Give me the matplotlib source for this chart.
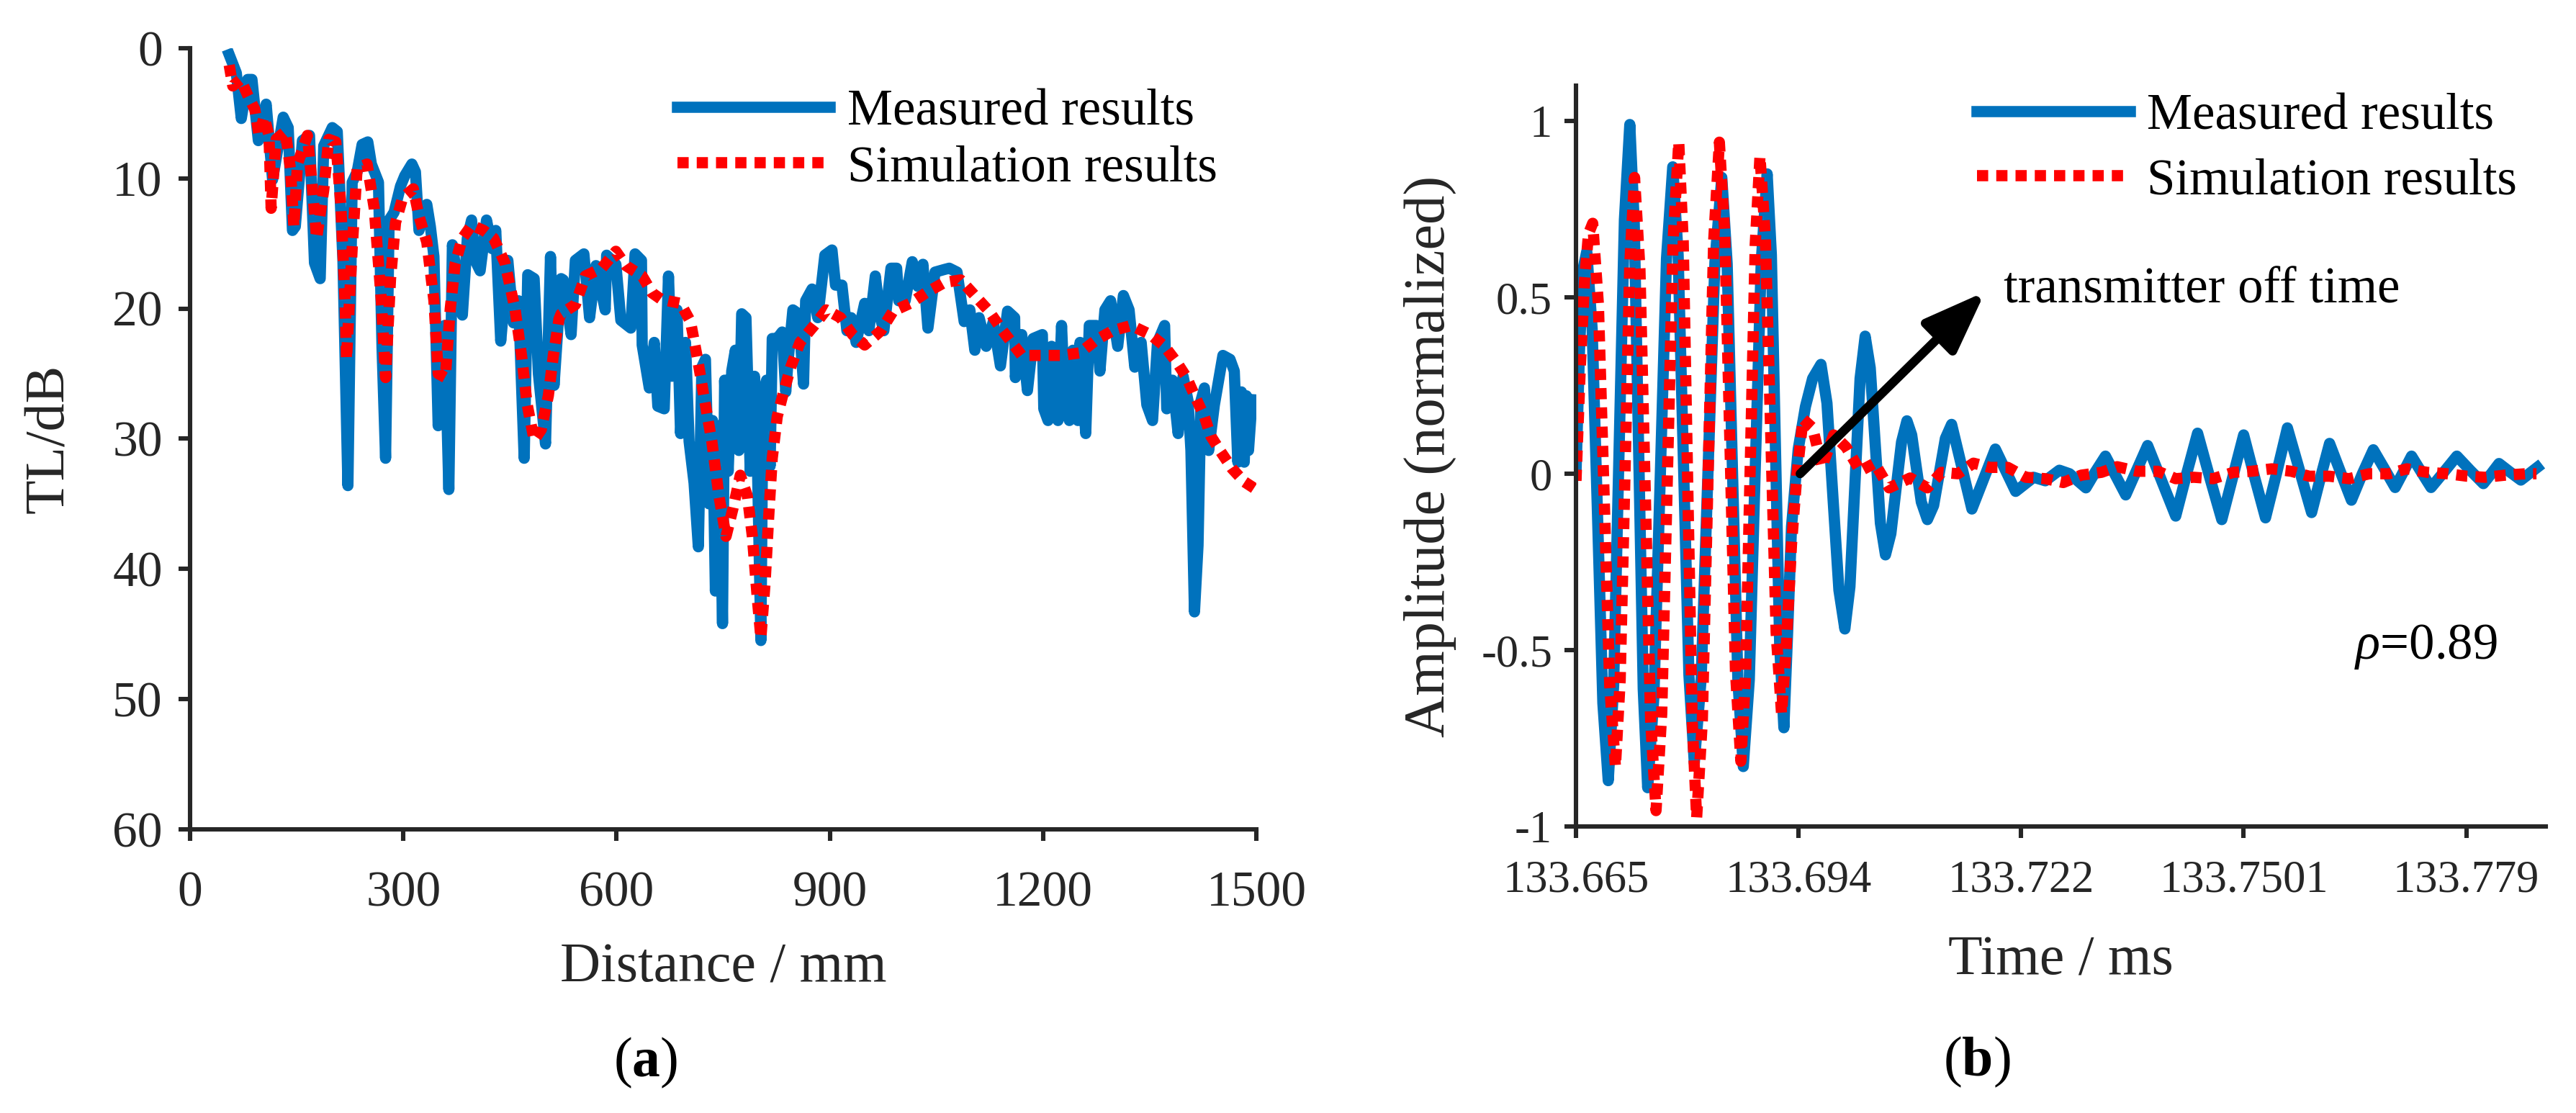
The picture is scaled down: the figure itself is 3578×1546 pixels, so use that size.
import matplotlib
matplotlib.use('Agg')
from matplotlib import pyplot as plt

plt.rcParams['font.family'] = ['Liberation Serif', 'DejaVu Serif']
plt.rcParams['mathtext.fontset'] = 'custom'
plt.rcParams['mathtext.rm'] = 'Liberation Serif'
plt.rcParams['mathtext.it'] = 'Liberation Serif:italic'
plt.rcParams['mathtext.bf'] = 'Liberation Serif:bold'

# (a) transmission loss vs distance
dist_meas = [55, 65, 72, 81, 87, 96, 107, 116, 131, 138, 144, 148, 158, 168, 175, 183,
             188, 200, 207, 215, 222, 228, 235, 242, 250, 255, 265, 270, 275, 280, 287,
             296, 302, 312, 317, 322, 333, 338, 343, 349, 358, 364, 369, 383, 390, 396,
             401, 408, 417, 425, 430, 437, 447, 455, 462, 470, 475, 484, 490, 500, 507,
             512, 522, 525, 536, 542, 554, 562, 571, 584, 586, 599, 606, 620, 626, 635,
             636, 646, 653, 658, 667, 673, 678, 685, 690, 697, 702, 709, 715, 720, 725,
             730, 735, 739, 744, 749, 752, 757, 762, 767, 772, 776, 782, 788, 794, 798,
             803, 806, 811, 816, 819, 826, 833, 838, 841, 848, 856, 863, 866, 875, 883,
             893, 903, 908, 917, 924, 930, 937, 949, 955, 964, 971, 976, 986, 994, 997,
             1006, 1016, 1024, 1031, 1038, 1048, 1061, 1068, 1079, 1089, 1097, 1104, 1110,
             1120, 1130, 1140, 1150, 1160, 1161, 1170, 1178, 1186, 1199, 1201, 1207, 1212,
             1221, 1226, 1231, 1237, 1242, 1249, 1252, 1260, 1265, 1275, 1280, 1287, 1295,
             1305, 1313, 1321, 1329, 1338, 1346, 1354, 1361, 1371, 1374, 1382, 1390, 1397,
             1404, 1408, 1413, 1418, 1422, 1427, 1433, 1441, 1453, 1463, 1469, 1474, 1479,
             1483, 1486, 1489, 1494]
tl_meas = [0.5, 1.9, 5.4, 2.4, 2.4, 7.1, 4.3, 10.1, 5.3, 6.1, 14.0, 13.7, 7.1, 6.7, 16.5, 17.7,
           7.5, 6.1, 6.4, 16.3, 33.6, 10.3, 9.5, 7.4, 7.2, 8.9, 10.3, 23.0, 31.5, 13.2, 12.6,
           10.6, 9.8, 8.9, 9.5, 14.0, 12.0, 13.7, 16.0, 29.0, 21.3, 33.9, 15.1, 20.5, 14.6, 13.2,
           16.3, 17.1, 13.2, 15.4, 14.0, 22.5, 16.3, 21.1, 19.4, 31.5, 17.4, 17.7, 25.0, 30.4, 16.0,
           25.9, 17.7, 17.8, 22.0, 16.3, 15.8, 20.7, 16.7, 20.1, 15.9, 16.6, 20.9, 21.5, 15.8, 16.3,
           22.8, 26.1, 22.6, 27.5, 27.7, 17.5, 25.2, 20.1, 29.6, 22.6, 30.2, 33.4, 38.3, 24.5, 23.9,
           35.0, 28.6, 41.7, 29.0, 44.2, 25.5, 32.5, 24.8, 23.2, 30.9, 20.4, 20.7, 32.5, 25.2, 31.5,
           45.5, 26.4, 25.5, 32.1, 22.3, 22.3, 21.8, 26.4, 24.2, 20.1, 20.4, 25.8, 19.4, 18.5, 20.7,
           15.9, 15.5, 18.2, 18.2, 21.7, 20.7, 22.6, 19.6, 21.7, 17.5, 20.7, 21.7, 16.9, 16.9, 19.4,
           19.4, 16.4, 18.3, 16.6, 21.5, 17.2, 17.0, 16.9, 17.2, 21.0, 20.1, 23.2, 20.7,
           22.9, 21.0, 24.4, 20.2, 20.7, 25.3, 22.0, 26.3, 22.3, 22.0, 27.7, 28.6, 22.9,
           28.6, 21.3, 27.7, 28.6, 23.2, 28.6, 22.6, 29.6, 21.3, 21.3, 24.8, 20.1, 19.4,
           22.9, 19.0, 20.1, 24.5, 22.6, 27.4, 28.6, 22.6, 21.3, 27.7, 25.5, 29.6, 25.2,
           27.1, 30.9, 43.3, 38.2, 27.1, 26.1, 30.9, 27.4, 23.6, 23.9, 24.8, 31.8, 26.4,
           31.8, 26.7, 30.9, 27.0]

dist_sim = [55, 60, 71, 81, 91, 97, 104, 111, 114, 121, 134, 141, 146, 151, 165, 171, 178,
            188, 195, 205, 212, 218, 220, 228, 235, 249, 259, 269, 275, 282, 289, 299, 314,
            322, 333, 343, 349, 359, 366, 373, 383, 396, 413, 427, 443, 457, 467, 474, 484,
            494, 504, 511, 519, 522, 542, 556, 579, 599, 613, 636, 650, 663, 690, 704, 714,
            724, 734, 744, 754, 764, 774, 784, 791, 798, 803, 809, 814, 819, 826, 835, 845,
            858, 878, 895, 915, 932, 949, 972, 989, 1013, 1035, 1061, 1084, 1104, 1124, 1143,
            1170, 1196, 1226, 1252, 1275, 1298, 1324, 1351, 1371, 1389, 1402, 1415, 1427,
            1436, 1450, 1466, 1483, 1497]
tl_sim = [1.3, 2.9, 2.4, 3.6, 4.7, 6.7, 5.3, 6.7, 12.3, 7.0, 6.4, 9.2, 13.7, 8.9, 6.7, 10.1, 14.6,
          10.9, 7.0, 7.2, 12.0, 19.4, 23.9, 15.4, 9.2, 8.9, 12.3, 19.4, 25.3, 17.7, 13.4, 11.5, 10.8,
          12.9, 14.9, 19.4, 25.0, 25.3, 20.0, 16.5, 14.6, 13.6, 14.0, 14.6, 16.5, 20.0, 23.9, 27.3, 30.1,
          29.3, 26.7, 23.6, 20.8, 20.4, 19.7, 17.5, 16.9, 15.6, 16.7, 17.5, 18.8, 19.3, 19.6, 21.0, 23.9,
          27.1, 30.2, 34.4, 37.5, 35.3, 32.8, 34.4, 37.5, 42.3, 45.3, 41.0, 36.0, 31.5, 28.3, 26.4, 24.5,
          22.6, 21.3, 20.1, 20.7, 22.0, 22.8, 21.7, 20.2, 19.6, 18.8, 18.0, 17.8, 19.0, 20.2, 21.7,
          23.6, 23.6, 23.6, 23.4, 22.4, 21.7, 21.3, 22.0, 22.9, 24.2, 25.3, 26.9, 28.3,
          29.8, 31.0, 32.3, 33.3, 33.8]

dist_ticks = [0, 300, 600, 900, 1200, 1500]
tl_ticks = [0, 10, 20, 30, 40, 50, 60]

# (b) time signal, time as microseconds after 133.665 ms
t0_ms = 133.665
t_meas_us = [0.0, 0.45, 0.9, 1.38, 2.07, 2.76, 3.44, 4.13, 4.82, 5.51, 6.2, 6.89, 7.46, 8.04,
             8.61, 9.18, 9.98, 10.79, 11.59, 12.39, 13.08, 13.77, 14.46, 15.15, 16.03, 16.91,
             17.79, 18.67, 19.36, 20.05, 20.73, 21.42, 22.19, 22.95, 23.72, 24.48, 25.02, 25.55,
             26.09, 26.62, 27.1, 27.6, 28.46, 29.38, 30.3, 31.37, 32.14, 32.9, 33.67, 34.43,
             35.08, 35.73, 36.38, 37.03, 37.68, 38.33, 38.98, 39.63, 40.32, 41.0, 41.69, 42.38,
             42.99, 43.6, 44.22, 45.0, 45.8, 46.55, 47.3, 48.1, 49.4, 50.7, 52.2, 53.7, 55.0,
             56.3, 58.6, 60.1, 61.9, 63.2, 65.3, 66.5, 67.8, 69.1, 70.4, 71.8, 73.2, 75.0, 76.8,
             78.2, 79.6, 81.15, 82.7, 84.1, 85.5, 86.9, 88.3, 89.7, 91.1, 92.65, 94.2, 95.35,
             96.5, 97.9, 99.3, 100.7, 102.1, 103.5, 104.9, 105.95, 107.0, 108.25, 109.5, 111.15,
             112.8, 114.5, 116.2, 117.2, 118.2, 119.6, 121.0, 123.1]
amp_meas = [0.0, 0.35, 0.58, 0.63, 0.41, -0.12, -0.65, -0.87, -0.6, 0.06, 0.72, 0.99, 0.71, 0.05,
            -0.61, -0.89, -0.63, -0.01, 0.61, 0.87, 0.62, 0.025, -0.57, -0.82, -0.58, 0.01,
            0.6, 0.84, 0.595, 0.0, -0.585, -0.83, -0.585, 0.01, 0.6, 0.85, 0.62, 0.065,
            -0.49, -0.72, -0.45, -0.15, 0.07, 0.19, 0.27, 0.31, 0.2, -0.065, -0.33, -0.44,
            -0.32, -0.025, 0.27, 0.39, 0.3, 0.08, -0.14, -0.23, -0.17, -0.04, 0.09, 0.15,
            0.11, 0.015, -0.08, -0.13, -0.09, 0.005, 0.1, 0.14, 0.02, -0.1, -0.015, 0.07, 0.01,
            -0.05, -0.01, -0.02, 0.01, 0.0, -0.04, 0.005, 0.05, -0.005, -0.06, 0.01, 0.08, -0.02, -0.12,
            0.0, 0.115, -0.01, -0.13, -0.01, 0.11, -0.01, -0.125, 0.0, 0.13, 0.01, -0.11, -0.01,
            0.086, 0.005, -0.075, 0.0, 0.068, 0.015, -0.039, 0.005, 0.05, 0.005, -0.039, 0.005,
            0.05, 0.01, -0.028, 0.0, 0.029, 0.005, -0.018, 0.018]

t_sim_us = [0.0, 0.55, 1.1, 1.6, 2.14, 2.87, 3.6, 4.32, 5.05, 5.66, 6.28, 6.89, 7.5, 8.19, 8.88,
            9.56, 10.25, 10.98, 11.7, 12.43, 13.16, 13.73, 14.3, 14.88, 15.45, 16.18, 16.9, 17.63,
            18.36, 19.05, 19.74, 20.42, 21.11, 21.72, 22.33, 22.95, 23.56, 24.25, 24.94, 25.63,
            26.32, 26.9, 27.6, 28.3, 29.07, 30.3, 31.5, 33.0, 34.6, 36.4, 38.25, 40.1, 42.8,
            45.0, 46.8, 48.9, 50.9, 53.0, 55.3, 57.6, 60.1, 62.4, 64.7, 67.3, 69.3, 71.9, 74.5,
            76.8, 79.1, 81.6, 84.2, 86.5, 89.1, 91.6, 93.9, 96.5, 99.0, 101.6, 104.1, 106.4,
            109.0, 111.6, 114.1, 116.4, 119.0, 121.6, 123.0]
amp_sim = [-0.02, 0.3, 0.55, 0.68, 0.71, 0.48, -0.06, -0.6, -0.83, -0.585, 0.005, 0.595, 0.84,
           0.58, -0.06, -0.7, -0.955, -0.68, -0.01, 0.66, 0.94, 0.66, -0.02, -0.7, -0.975, -0.7,
           -0.02, 0.66, 0.94, 0.68, 0.06, -0.56, -0.815, -0.57, 0.04, 0.65, 0.9, 0.67, 0.11,
           -0.45, -0.68, -0.5, -0.2, 0.0, 0.155, 0.13, 0.02, 0.11, 0.075, 0.008, 0.03, -0.04,
           -0.012, -0.04, 0.004, 0.0, 0.03, 0.018, 0.018, -0.01, -0.014, -0.025, -0.004, 0.004,
           0.02, 0.007, 0.007, -0.014, -0.01, -0.014, 0.004, 0.007, 0.014, 0.007, -0.007, -0.007,
           -0.014, 0.0, 0.0, 0.014, 0.004, 0.0, -0.007, -0.01, -0.004, 0.0, 0.0]

time_ticks_ms = [133.665, 133.6935, 133.722, 133.7505, 133.779]
time_tick_labels = ['133.665', '133.694', '133.722', '133.7501', '133.779']
amp_ticks = [-1, -0.5, 0, 0.5, 1]
amp_tick_labels = ['-1', '-0.5', '0', '0.5', '1']

blue = '#0072BD'
red = '#FF0000'
ink = '#262626'

t_meas = [t0_ms + v / 1000 for v in t_meas_us]
t_sim = [t0_ms + v / 1000 for v in t_sim_us]

fig = plt.figure(figsize=(17.89, 7.73), dpi=200)
ax1 = fig.add_axes([0.0738, 0.2549, 0.4139, 0.7018])
ax2 = fig.add_axes([0.6118, 0.2574, 0.3765, 0.6656])

for ax in (ax1, ax2):
    for side in ('top', 'right'):
        ax.spines[side].set_visible(False)
    for side in ('left', 'bottom'):
        ax.spines[side].set_linewidth(2.2)
        ax.spines[side].set_color(ink)
    ax.tick_params(direction='out', length=5.8, width=2.2, color=ink, labelcolor=ink)

dots = (0, (1.0, 0.72))
lw_line = 5.6

# Plot (a)
ax1.plot(dist_meas, tl_meas, color=blue, lw=lw_line, label='Measured results')
ax1.plot(dist_sim, tl_sim, color=red, lw=lw_line, linestyle=dots, label='Simulation results')
ax1.set_xlim(0, 1500)
ax1.set_ylim(60, 0)
ax1.set_xticks(dist_ticks)
ax1.set_yticks(tl_ticks)
ax1.tick_params(axis='both', labelsize=25)
ax1.tick_params(axis='x', pad=15)
ax1.tick_params(axis='y', pad=8)
ax1.set_xlabel('Distance / mm', fontsize=28, color=ink, va='center')
ax1.xaxis.set_label_coords(0.5, -0.178)
ax1.set_ylabel('TL/dB', fontsize=28, color=ink, va='center')
ax1.yaxis.set_label_coords(-0.1317, 0.5)
ax1.legend(loc='upper left', bbox_to_anchor=(0.457, 0.948), frameon=False, fontsize=25.5,
           handlelength=3.0, handletextpad=0.33, labelspacing=0.18, borderpad=0, borderaxespad=0)

# Plot (b)
ax2.plot(t_meas, amp_meas, color=blue, lw=lw_line, label='Measured results')
ax2.plot(t_sim, amp_sim, color=red, lw=lw_line, linestyle=dots, label='Simulation results')
ax2.set_xlim(t0_ms, t0_ms + 0.1242)
ax2.set_ylim(-1, 1.1)
ax2.set_xticks(time_ticks_ms)
ax2.set_xticklabels(time_tick_labels)
ax2.set_yticks(amp_ticks)
ax2.set_yticklabels(amp_tick_labels)
ax2.tick_params(axis='both', labelsize=22.5)
ax2.tick_params(axis='x', pad=11)
ax2.tick_params(axis='y', pad=6)
ax2.set_xlabel('Time / ms', fontsize=28, color=ink, va='center')
ax2.xaxis.set_label_coords(0.5, -0.181)
ax2.set_ylabel('Amplitude (normalized)', fontsize=29, color=ink, va='center')
ax2.yaxis.set_label_coords(-0.1507, 0.5)
ax2.legend(loc='upper left', bbox_to_anchor=(0.4135, 0.99), frameon=False, fontsize=25.5,
           handlelength=3.0, handletextpad=0.33, labelspacing=0.35, borderpad=0, borderaxespad=0)

ax2.annotate('', xy=(t0_ms + 0.0524, 0.516), xytext=(t0_ms + 0.0287, 0.0),
             arrowprops=dict(arrowstyle='-|>,head_length=0.4,head_width=0.15',
                             mutation_scale=65, lw=4.5, color='black',
                             shrinkA=0, shrinkB=0))
ax2.text(t0_ms + 0.0548, 0.52, 'transmitter off time', fontsize=25.5, color='black',
         ha='left', va='center')
ax2.text(t0_ms + 0.0997, -0.49, r'$\rho$=0.89', fontsize=25.5, color='black',
         ha='left', va='center')

fig.text(0.2507, 0.045, r'($\mathbf{a}$)', fontsize=28, ha='center', va='center')
fig.text(0.7675, 0.046, r'($\mathbf{b}$)', fontsize=28, ha='center', va='center')

fig.savefig('out.png', dpi=200)
